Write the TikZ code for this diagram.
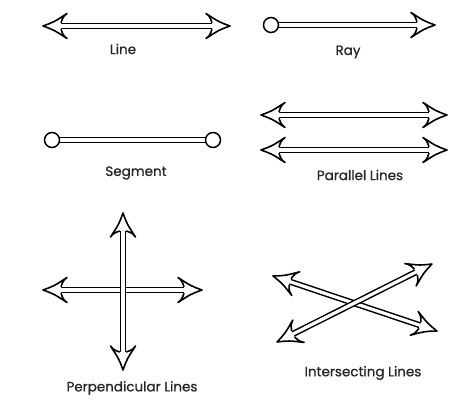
\documentclass[tikz,border=0pt]{standalone}
\usepackage{fontspec}
\setmainfont{Poppins}
\newfontfamily\lblfont{Poppins}[FakeBold=0.8]
\usetikzlibrary{calc}
\tikzset{
  shaft/.style={draw=black,line width=1.5pt,double=white,double distance=3.2pt,line cap=butt,shorten <=#1,shorten >=#1},
  shaft/.default=16pt,
  headstyle/.style={fill=white,draw=black,line width=1.6pt,line join=round},
  dot/.style={circle,draw=black,fill=white,line width=1.5pt,minimum size=15pt,inner sep=0pt},
  lbl/.style={font=\lblfont\fontsize{13.5}{15}\selectfont,text=black!85}
}
\newcommand{\arrhead}[2]{%
  \coordinate (hb) at ($(#1)!24pt!(#2)$);
  \coordinate (hn) at ($(#1)!18pt!(#2)$);
  \coordinate (hm) at ($(#1)!11pt!(#2)$);
  \coordinate (hc) at ($(#1)!20pt!(#2)$);
  \filldraw[headstyle] ($(hn)!3.2pt!90:(#1)$) .. controls ($(hc)!9pt!90:(#1)$) .. ($(hb)!12.5pt!90:(#1)$)
     .. controls ($(hm)!4pt!90:(#1)$) .. (#1)
     .. controls ($(hm)!4pt!-90:(#1)$) .. ($(hb)!12.5pt!-90:(#1)$)
     .. controls ($(hc)!9pt!-90:(#1)$) .. ($(hn)!3.2pt!-90:(#1)$);
}
\begin{document}
\begin{tikzpicture}[x=1pt,y=-1pt]
\useasboundingbox (0,0) rectangle (474,403);
% Line
\coordinate (l1) at (43,26); \coordinate (l2) at (230,26);
\draw[shaft] (l1) -- (l2);
\arrhead{l1}{l2}\arrhead{l2}{l1}
\node[lbl] (tl) at (123,49) {Line};
% Ray
\coordinate (r1) at (271,25); \coordinate (r2) at (435,25);
\draw[shaft, shorten <=0pt] (r1) -- (r2);
\arrhead{r2}{r1}
\node[dot] (rd) at (r1) {};
\node[lbl] (tr) at (348,52) {Ray};
% Segment
\coordinate (s1) at (52,140); \coordinate (s2) at (213,140);
\draw[shaft=0pt] (s1) -- (s2);
\node[dot] (sd1) at (s1) {};
\node[dot] (sd2) at (s2) {};
\node[lbl] (ts) at (136,173) {Segment};
% Parallel
\coordinate (p1) at (261,115); \coordinate (p2) at (447,115);
\coordinate (q1) at (261,150); \coordinate (q2) at (447,150);
\draw[shaft] (p1) -- (p2);
\arrhead{p1}{p2}\arrhead{p2}{p1}
\draw[shaft] (q1) -- (q2);
\arrhead{q1}{q2}\arrhead{q2}{q1}
\node[lbl] (tp) at (360,175) {Parallel Lines};
% Perpendicular
\coordinate (h1) at (43,290); \coordinate (h2) at (202,290);
\coordinate (v1) at (123,213); \coordinate (v2) at (123,370);
\draw[shaft] (h1) -- (h2);
\arrhead{h1}{h2}\arrhead{h2}{h1}
\draw[shaft] (v1) -- (v2);
\arrhead{v1}{v2}\arrhead{v2}{v1}
\node[lbl] (tpp) at (132,388) {Perpendicular Lines};
% Intersecting
\coordinate (a1) at (273,276); \coordinate (a2) at (437,331);
\coordinate (b1) at (277,342); \coordinate (b2) at (432,264);
\draw[shaft] (a1) -- (a2);
\arrhead{a1}{a2}\arrhead{a2}{a1}
\draw[shaft] (b1) -- (b2);
\arrhead{b1}{b2}\arrhead{b2}{b1}
\node[lbl] (ti) at (363,373) {Intersecting Lines};
\end{tikzpicture}
\end{document}
